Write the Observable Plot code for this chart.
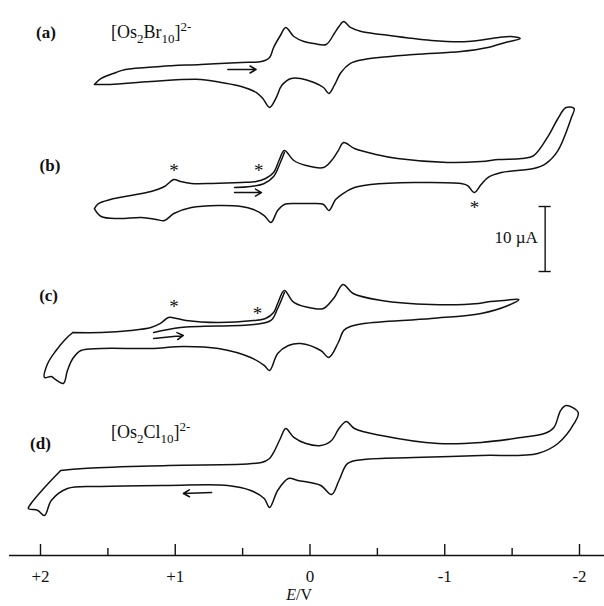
<!DOCTYPE html>
<html>
<head>
<meta charset="utf-8">
<script src="https://cdn.jsdelivr.net/npm/d3@7"></script>
<script src="https://cdn.jsdelivr.net/npm/@observablehq/plot@0.6"></script>
<style>
  html, body { margin: 0; padding: 0; background: #fff; }
  #chart svg { display: block; background: #fff; }
</style>
</head>
<body>
<div id="chart"></div>
<script>
// ---- Data: potential E (V) and current I (µA, relative to each trace's own baseline) ----
const loopA = [[1.60,-2.15],[1.55,-1.23],[1.44,-0.31],[1.37,0.15],[1.11,0.62],[0.81,0.92],[0.51,1.23],[0.36,1.38],[0.30,2.0],[0.27,3.54],[0.22,5.38],[0.18,6.62],[0.12,5.23],[0.045,4.46],[-0.03,4.15],[-0.12,4.0],[-0.18,5.69],[-0.215,6.77],[-0.25,7.54],[-0.30,6.62],[-0.38,6.0],[-0.53,5.54],[-0.90,4.62],[-1.17,4.46],[-1.40,5.08],[-1.49,5.23],[-1.56,4.92],[-1.45,4.31],[-1.32,3.54],[-1.12,2.92],[-0.77,2.46],[-0.40,1.69],[-0.30,1.08],[-0.23,-0.31],[-0.18,-2.31],[-0.14,-3.54],[-0.10,-2.62],[-0.03,-1.85],[0.07,-1.23],[0.14,-1.23],[0.21,-2.31],[0.25,-4.15],[0.30,-5.69],[0.35,-4.31],[0.40,-3.38],[0.51,-2.46],[0.66,-1.85],[0.81,-1.38],[1.18,-1.69],[1.48,-2.15],[1.60,-2.15]];
const loopB = [[1.60,-2.77],[1.57,-2.0],[1.48,-1.38],[1.33,-0.77],[1.18,-0.15],[1.08,0.62],[1.01,1.69],[0.96,1.38],[0.88,1.08],[0.73,1.08],[0.51,1.23],[0.40,1.38],[0.33,1.85],[0.27,2.77],[0.23,4.62],[0.19,6.15],[0.12,4.62],[0.03,3.85],[-0.10,3.54],[-0.16,4.62],[-0.21,6.15],[-0.25,7.38],[-0.33,6.46],[-0.49,5.54],[-0.65,4.92],[-1.02,4.31],[-1.27,4.46],[-1.40,4.77],[-1.57,4.92],[-1.66,5.38],[-1.77,8.46],[-1.84,11.08],[-1.90,12.77],[-1.96,12.62],[-1.94,11.23],[-1.84,6.15],[-1.75,4.15],[-1.66,3.38],[-1.42,2.77],[-1.32,2.0],[-1.27,0.92],[-1.22,-0.31],[-1.17,0.77],[-1.12,1.08],[-0.77,1.23],[-0.45,0.92],[-0.33,0.46],[-0.245,-0.46],[-0.19,-1.38],[-0.14,-3.08],[-0.10,-2.15],[-0.01,-2.0],[0.10,-2.0],[0.19,-2.15],[0.24,-3.08],[0.29,-4.92],[0.34,-3.85],[0.42,-2.92],[0.51,-2.46],[0.68,-2.31],[0.88,-2.62],[1.01,-3.54],[1.08,-4.62],[1.14,-4.46],[1.25,-4.15],[1.42,-4.31],[1.55,-4.0],[1.60,-2.77]];
const startB = [[0.56,0.46],[0.44,0.62],[0.34,1.08],[0.27,2.15],[0.22,4.31],[0.19,5.85]];
const loopC = [[1.76,-0.31],[1.55,-0.31],[1.33,0],[1.18,0.46],[1.11,1.08],[1.05,2.0],[0.99,1.85],[0.92,1.54],[0.68,1.23],[0.42,1.54],[0.33,1.85],[0.27,2.77],[0.24,4.15],[0.19,6.15],[0.12,4.31],[-0.03,3.38],[-0.10,3.38],[-0.18,5.08],[-0.245,7.08],[-0.32,5.69],[-0.53,4.62],[-0.90,4.0],[-1.25,4.15],[-1.34,4.46],[-1.44,4.62],[-1.55,4.77],[-1.47,3.85],[-1.27,2.62],[-0.90,1.85],[-0.40,1.08],[-0.30,0.62],[-0.25,0],[-0.21,-1.85],[-0.14,-4.15],[-0.08,-3.08],[0.07,-2.0],[0.16,-2.31],[0.24,-3.54],[0.30,-6.15],[0.34,-5.38],[0.44,-4.15],[0.68,-2.77],[0.94,-2.46],[1.18,-2.77],[1.55,-2.77],[1.70,-3.08],[1.76,-4.31],[1.80,-6.15],[1.83,-8.15],[1.89,-7.54],[1.92,-7.08],[1.97,-7.23],[1.95,-5.23],[1.89,-3.23],[1.81,-1.23],[1.76,-0.31]];
const startC = [[1.16,-0.31],[0.96,0.46],[0.42,0.92],[0.29,1.54],[0.24,3.38],[0.19,5.85]];
const loopD = [[1.85,0],[1.68,0.31],[1.05,0.77],[0.36,1.23],[0.30,1.85],[0.27,2.77],[0.22,4.92],[0.18,6.46],[0.12,5.08],[0.03,4.15],[-0.08,3.85],[-0.16,4.62],[-0.215,6.46],[-0.27,7.54],[-0.33,6.46],[-0.53,5.38],[-0.95,4.15],[-1.27,4.31],[-1.57,5.08],[-1.74,5.69],[-1.81,6.62],[-1.86,9.23],[-1.90,10.0],[-1.99,8.92],[-1.96,7.23],[-1.84,4.15],[-1.69,2.62],[-1.27,2.31],[-0.77,2.0],[-0.40,1.69],[-0.28,1.08],[-0.215,-1.54],[-0.16,-3.69],[-0.08,-2.31],[0.09,-1.54],[0.16,-1.23],[0.24,-3.08],[0.30,-5.69],[0.34,-4.31],[0.44,-3.08],[0.61,-2.31],[1.05,-2.31],[1.55,-2.46],[1.80,-2.77],[1.92,-4.62],[1.97,-6.92],[2.02,-6.15],[2.09,-5.85],[2.07,-5.08],[1.97,-2.62],[1.85,0]];
// asterisk marks [E, I]
const starsB = [[1.01,3.54],[0.38,3.54],[-1.22,-2.15]];
const starsC = [[1.01,4.15],[0.39,3.08]];
// sweep-direction arrows [E1, I1, E2, I2]
const arrowA = [0.61,0.15,0.40,0.15];
const arrowB = [0.56,-0.31,0.36,-0.31];
const arrowC = [1.16,-1.23,0.94,-0.77];
const arrowD = [0.73,-3.38,0.94,-3.54];
// axis ticks
const majorTicks = [2,1,0,-1,-2];
const tickLabels = ["+2","+1","0","-1","-2"];
const minorTicks = [1.5,0.5,-0.5,-1.5];
const panelNames = ["(a)","(b)","(c)","(d)"];
const formulaA = [["[Os",""],["2","sub"],["Br",""],["10","sub"],["]",""],["2-","sup"]];
const formulaD = [["[Os",""],["2","sub"],["Cl",""],["10","sub"],["]",""],["2-","sup"]];
const scaleBarMicroA = 10;

// ---- Layout (stacking offsets in µA units) ----
const off = {a: 74.62, b: 56.15, c: 34.62, d: 13.08};
const serif = "'Liberation Serif','Times New Roman',serif";

const shift = (arr, o) => arr.map(([e, i]) => ({E: e, I: i + o}));
const arrowRow = (a, o) => ({x1: a[0], y1: a[1] + o, x2: a[2], y2: a[3] + o});
const lineOpts = {x: "E", y: "I", curve: "catmull-rom", stroke: "#111", strokeWidth: 1.5};

const barX = -1.745, barY0 = 43.69;

const chart = Plot.plot({
  width: 604,
  height: 606,
  margin: 0,
  style: {background: "#fff", overflow: "visible"},
  x: {domain: [2, -2], range: [40, 579], axis: null},
  y: {domain: [0, 555 / 6.5], range: [555, 0], axis: null},
  marks: [
    Plot.line(shift(loopA, off.a), lineOpts),
    Plot.line(shift(loopB, off.b), lineOpts),
    Plot.line(shift(startB, off.b), lineOpts),
    Plot.line(shift(loopC, off.c), lineOpts),
    Plot.line(shift(startC, off.c), lineOpts),
    Plot.line(shift(loopD, off.d), lineOpts),
    Plot.arrow([arrowRow(arrowA, off.a), arrowRow(arrowB, off.b), arrowRow(arrowC, off.c), arrowRow(arrowD, off.d)],
      {x1: "x1", y1: "y1", x2: "x2", y2: "y2", stroke: "#111", strokeWidth: 1.5, headLength: 7}),
    Plot.text([...shift(starsB, off.b), ...shift(starsC, off.c)],
      {x: "E", y: "I", text: () => "*", fontSize: 19, fontFamily: serif, fill: "#111", lineAnchor: "middle", dy: 3}),
    // panel labels
    Plot.text(panelNames, {x: [1.96, 1.93, 1.94, 2.0], y: [80.46, 60.0, 40.0, 17.23], text: d => d,
      fontSize: 17, fontWeight: "bold", fontFamily: serif, fill: "#111", lineAnchor: "middle"}),
    Plot.text(["FORMULA_A", "FORMULA_D"], {x: [1.477, 1.477], y: [80.46, 18.92], text: d => d,
      fontSize: 18, fontFamily: serif, fill: "#111", textAnchor: "start", lineAnchor: "middle"}),
    // scale bar
    Plot.ruleX([barX], {y1: barY0, y2: barY0 + scaleBarMicroA, stroke: "#111", strokeWidth: 1.4}),
    Plot.ruleY([barY0, barY0 + scaleBarMicroA], {x1: -1.70, x2: -1.79, stroke: "#111", strokeWidth: 1.4}),
    Plot.text([`${scaleBarMicroA} \u00b5A`], {x: -1.69, y: barY0 + scaleBarMicroA / 2 + 0.3, text: d => d,
      fontSize: 17, fontFamily: serif, fill: "#111", textAnchor: "end", lineAnchor: "middle"}),
    // x axis
    Plot.ruleY([0], {x1: 2.23, x2: -2.2, stroke: "#111", strokeWidth: 1.6}),
    Plot.ruleX(majorTicks, {y1: 0, y2: 1.69, stroke: "#111", strokeWidth: 1.4}),
    Plot.ruleX(minorTicks, {y1: 0, y2: 1.08, stroke: "#111", strokeWidth: 1.4}),
    Plot.text(majorTicks, {x: d => d, y: -3.2, text: (d, i) => tickLabels[i],
      fontSize: 17, fontFamily: serif, fill: "#111", lineAnchor: "middle"}),
    Plot.text(["AXIS_E_V"], {x: 0.08, y: -6.0, text: d => d,
      fontSize: 16, fontFamily: serif, fill: "#111", lineAnchor: "middle"})
  ]
});

// rich text: sub/superscripts and italics
const svg = d3.select(chart);
function fillParts(node, parts) {
  const t = d3.select(node);
  t.text(null);
  let level = 0;
  for (const [s, kind] of parts) {
    const target = kind === "sub" ? 5 : kind === "sup" ? -7 : 0;
    const ts = t.append("tspan").text(s).attr("dy", target - level);
    if (kind) ts.attr("font-size", 13);
    level = target;
  }
}
svg.selectAll("text").each(function () {
  const txt = this.textContent;
  if (txt === "FORMULA_A") fillParts(this, formulaA);
  else if (txt === "FORMULA_D") fillParts(this, formulaD);
  else if (txt === "AXIS_E_V") {
    const t = d3.select(this);
    t.text(null);
    t.append("tspan").attr("font-style", "italic").text("E");
    t.append("tspan").text("/V");
  }
});

document.getElementById("chart").appendChild(chart);
</script>
</body>
</html>
